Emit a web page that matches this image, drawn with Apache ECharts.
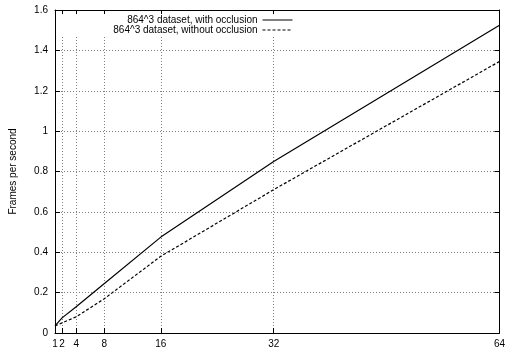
<!DOCTYPE html>
<html>
<head>
<meta charset="utf-8">
<script src="https://cdn.jsdelivr.net/npm/echarts@6/dist/echarts.min.js"></script>
<style>
html, body { margin: 0; padding: 0; background: #fff; }
#main { width: 508px; height: 354px; }
</style>
</head>
<body>
<div id="main"></div>
<script>
var chart = echarts.init(document.getElementById('main'));

// number of processors (x) and frames per second (y)
var procs = [1, 2, 4, 8, 16, 32, 64];
var withOcc = [0.035, 0.075, 0.13, 0.245, 0.475, 0.85, 1.525];
var withoutOcc = [0.035, 0.05, 0.08, 0.17, 0.38, 0.71, 1.345];
var xTicks = [1, 2, 4, 8, 16, 32, 64];
var names = ['864^3 dataset, with occlusion', '864^3 dataset, without occlusion'];

var font = 'Liberation Sans, Arial, Helvetica, sans-serif';
var gridStyle = { color: '#808080', type: [1, 2], width: 1 };

function pairs(xs, ys) {
    var out = [];
    for (var i = 0; i < xs.length; i++) out.push([xs[i], ys[i]]);
    return out;
}

function keyEntry(name, top, dash) {
    return {
        data: [name], right: 215, top: top, padding: 0, align: 'right',
        itemWidth: 30, itemHeight: 10, selectedMode: false,
        itemStyle: { opacity: 0 },   // no symbol, just the line sample
        lineStyle: { width: 1, type: dash },
        textStyle: { fontSize: 10, color: '#000', fontFamily: font }
    };
}

var option = {
    animation: false,
    backgroundColor: '#fff',
    grid: { left: 55, right: 5, top: 10, bottom: 21 },
    textStyle: { fontFamily: font },
    legend: [keyEntry(names[0], 15, 'solid'), keyEntry(names[1], 25, [3, 2])],
    graphic: [{
        // key area: gnuplot clears the grid behind the key
        type: 'rect', z: 3, silent: true,
        shape: { x: 56, y: 14, width: 244, height: 21 },
        style: { fill: '#fff' }
    }],
    xAxis: [
        {
            type: 'value', min: 1, max: 64,
            axisLine: { lineStyle: { color: '#000', width: 1 } },
            axisTick: { inside: true, length: 5, customValues: xTicks, lineStyle: { color: '#000' } },
            axisLabel: { customValues: xTicks, fontSize: 10, color: '#000', margin: 6, fontFamily: font },
            splitLine: { show: true, lineStyle: gridStyle }
        },
        {
            type: 'value', min: 1, max: 64, position: 'top',
            axisLine: { onZero: false, lineStyle: { color: '#000', width: 1 } },
            axisTick: { inside: true, length: 5, customValues: xTicks, lineStyle: { color: '#000' } },
            axisLabel: { show: false },
            splitLine: { show: false }
        }
    ],
    yAxis: [
        {
            type: 'value', min: 0, max: 1.6, interval: 0.2,
            name: 'Frames per second', nameLocation: 'middle', nameGap: 37,
            nameTextStyle: { fontSize: 10, color: '#000', fontFamily: font },
            axisLine: { show: true, lineStyle: { color: '#000', width: 1 } },
            axisTick: { show: true, inside: true, length: 5, lineStyle: { color: '#000' } },
            axisLabel: { fontSize: 10, color: '#000', margin: 7, fontFamily: font },
            splitLine: { show: true, lineStyle: gridStyle }
        },
        {
            type: 'value', min: 0, max: 1.6, interval: 0.2, position: 'right',
            axisLine: { show: true, onZero: false, lineStyle: { color: '#000', width: 1 } },
            axisTick: { show: true, inside: true, length: 5, lineStyle: { color: '#000' } },
            axisLabel: { show: false },
            splitLine: { show: false }
        }
    ],
    series: [
        {
            name: names[0], type: 'line', symbol: 'none', z: 5,
            data: pairs(procs, withOcc),
            lineStyle: { color: '#000', width: 1.2, type: 'solid' },
            itemStyle: { color: '#000' }
        },
        {
            name: names[1], type: 'line', symbol: 'none', z: 5,
            data: pairs(procs, withoutOcc),
            lineStyle: { color: '#000', width: 1.2, type: [3, 2] },
            itemStyle: { color: '#000' }
        }
    ]
};
chart.setOption(option);
</script>
</body>
</html>
